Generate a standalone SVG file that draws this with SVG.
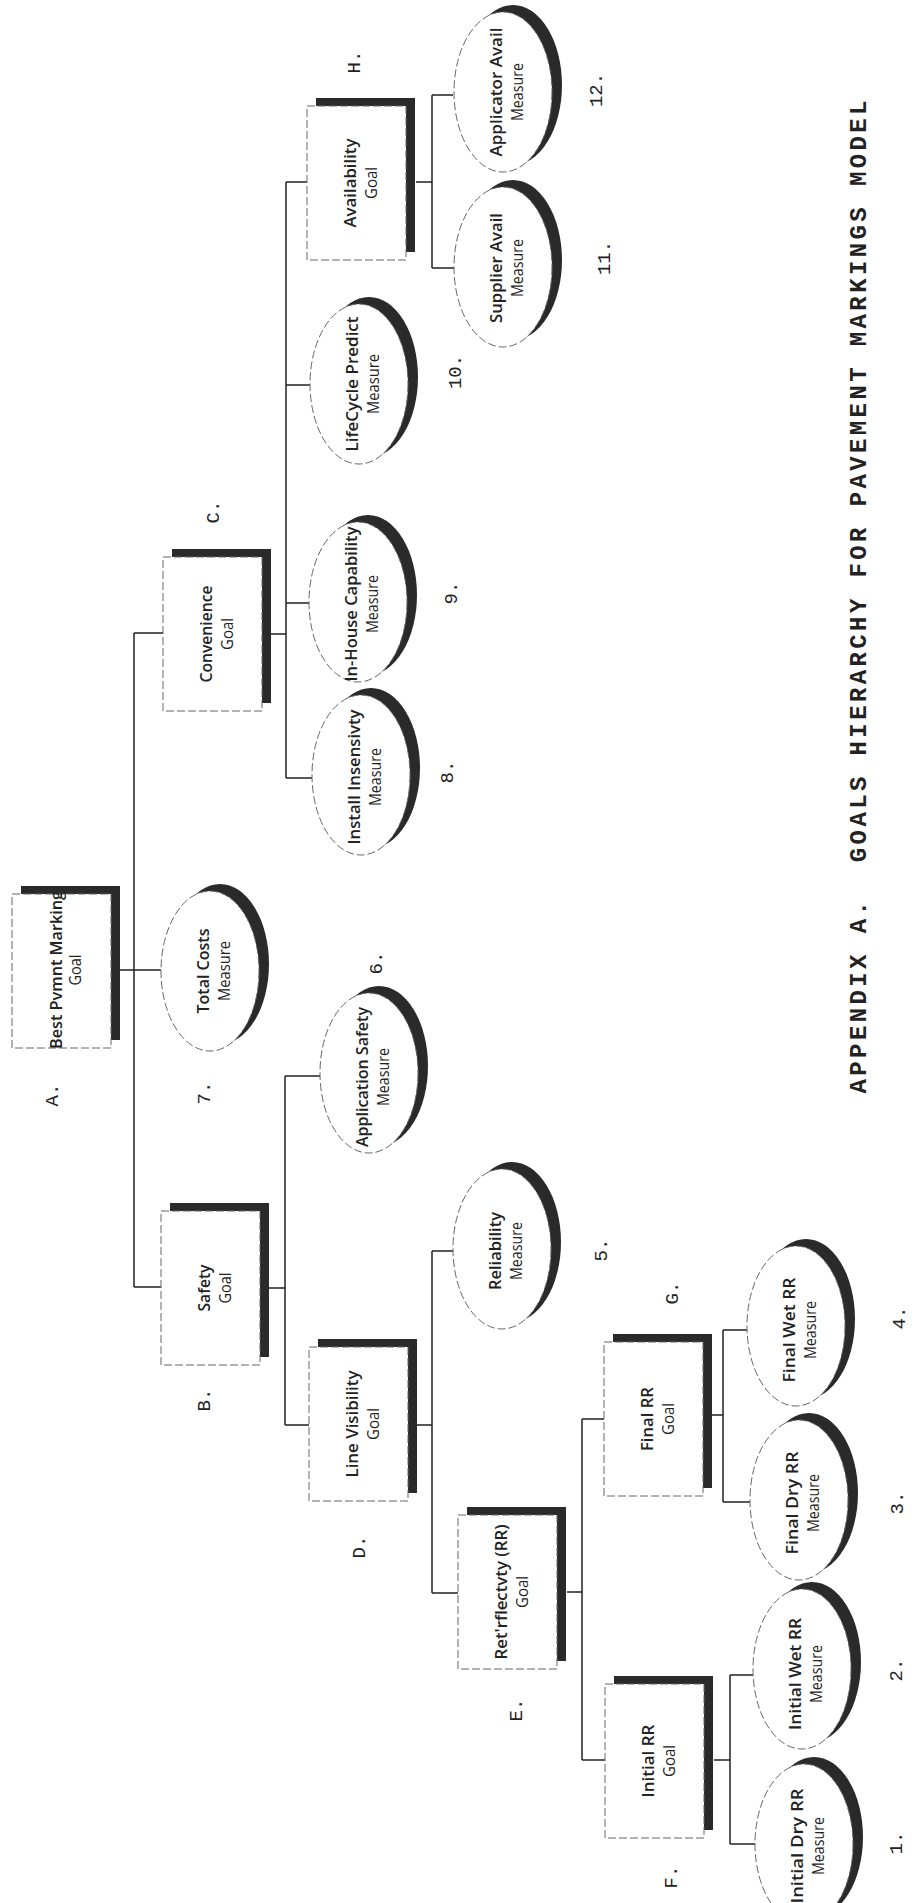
<svg xmlns="http://www.w3.org/2000/svg" width="914" height="1903" viewBox="0 0 914 1903">
<style>
.sh{fill:#2a2a2a}
.bx{fill:#fff;stroke:#666;stroke-width:1;stroke-dasharray:8 3}
.cn{fill:none;stroke:#222;stroke-width:1.5}
.t1{font-family:"Open Sans","Liberation Sans",sans-serif;font-weight:600;font-size:15.5px;fill:#222;text-anchor:middle}
.t2{font-family:"Open Sans","Liberation Sans",sans-serif;font-weight:400;font-size:16px;fill:#222;text-anchor:middle}
.lb{font-family:"Liberation Mono",monospace;font-size:19px;fill:#222;text-anchor:middle;dominant-baseline:central}
.ti{font-family:"Liberation Mono",monospace;font-weight:bold;font-size:24px;fill:#222;text-anchor:middle;dominant-baseline:central}
</style>
<defs>
<clipPath id="clipA"><rect x="0" y="893" width="130" height="170"/></clipPath>
</defs>
<rect width="914" height="1903" fill="#fff"/>

<g id="connectors">
<path class="cn" d="M120,970H161M134,633V1287M134,633H163M134,1287H161"/>
<path class="cn" d="M269,1288H285M285,1076V1425M285,1076H320M285,1425H309"/>
<path class="cn" d="M271,634H286M286,182V778M286,182H307M286,385H310M286,603H309M286,778H312"/>
<path class="cn" d="M416,182H432M432,95V268M432,95H453M432,268H454"/>
<path class="cn" d="M417,1425H432M432,1251V1593M432,1251H453M432,1593H458"/>
<path class="cn" d="M567,1592H582M582,1419V1760M582,1419H604M582,1760H605"/>
<path class="cn" d="M712,1415H723M723,1330V1502M723,1330H747M723,1502H750"/>
<path class="cn" d="M714,1760H730M730,1675V1844M730,1675H753M730,1844H755"/>
</g>

<!-- Goal boxes -->
<g id="n-A">
<rect class="sh" x="21" y="886" width="99" height="154"/>
<rect class="bx" x="12" y="894" width="99" height="154"/>
<g clip-path="url(#clipA)"><g transform="translate(61.5,970) rotate(-90)"><text class="t1" y="0" textLength="158" lengthAdjust="spacingAndGlyphs">Best Pvmnt Marking</text><text class="t2" y="19" textLength="31" lengthAdjust="spacingAndGlyphs">Goal</text></g></g>
</g>
<g id="n-B">
<rect class="sh" x="170" y="1203" width="99" height="154"/>
<rect class="bx" x="161" y="1211" width="99" height="154"/>
<g transform="translate(210.5,1288) rotate(-90)"><text class="t1" y="-1" textLength="47" lengthAdjust="spacingAndGlyphs">Safety</text><text class="t2" y="20" textLength="31" lengthAdjust="spacingAndGlyphs">Goal</text></g>
</g>
<g id="n-C">
<rect class="sh" x="172" y="549" width="99" height="154"/>
<rect class="bx" x="163" y="557" width="99" height="154"/>
<g transform="translate(212.5,634) rotate(-90)"><text class="t1" y="-1" textLength="97" lengthAdjust="spacingAndGlyphs">Convenience</text><text class="t2" y="20" textLength="32" lengthAdjust="spacingAndGlyphs">Goal</text></g>
</g>
<g id="n-D">
<rect class="sh" x="318" y="1339" width="99" height="154"/>
<rect class="bx" x="309" y="1347" width="99" height="154"/>
<g transform="translate(358.5,1424) rotate(-90)"><text class="t1" y="-1" textLength="107" lengthAdjust="spacingAndGlyphs">Line Visibility</text><text class="t2" y="20" textLength="32" lengthAdjust="spacingAndGlyphs">Goal</text></g>
</g>
<g id="n-H">
<rect class="sh" x="316" y="98" width="99" height="154"/>
<rect class="bx" x="307" y="106" width="99" height="154"/>
<g transform="translate(356.5,183) rotate(-90)"><text class="t1" y="-1" textLength="89" lengthAdjust="spacingAndGlyphs">Availability</text><text class="t2" y="20" textLength="32" lengthAdjust="spacingAndGlyphs">Goal</text></g>
</g>
<g id="n-E">
<rect class="sh" x="467" y="1507" width="99" height="154"/>
<rect class="bx" x="458" y="1515" width="99" height="154"/>
<g transform="translate(507.5,1592) rotate(-90)"><text class="t1" y="-1" textLength="135" lengthAdjust="spacingAndGlyphs">Ret'rflectvty (RR)</text><text class="t2" y="20" textLength="32" lengthAdjust="spacingAndGlyphs">Goal</text></g>
</g>
<g id="n-G">
<rect class="sh" x="613" y="1334" width="99" height="154"/>
<rect class="bx" x="604" y="1342" width="99" height="154"/>
<g transform="translate(653.5,1419) rotate(-90)"><text class="t1" y="-1" textLength="64" lengthAdjust="spacingAndGlyphs">Final RR</text><text class="t2" y="20" textLength="32" lengthAdjust="spacingAndGlyphs">Goal</text></g>
</g>
<g id="n-F">
<rect class="sh" x="614" y="1676" width="99" height="154"/>
<rect class="bx" x="605" y="1684" width="99" height="154"/>
<g transform="translate(654.5,1761) rotate(-90)"><text class="t1" y="-1" textLength="73" lengthAdjust="spacingAndGlyphs">Initial RR</text><text class="t2" y="20" textLength="32" lengthAdjust="spacingAndGlyphs">Goal</text></g>
</g>

<!-- Measure ellipses -->
<g id="n-7">
<ellipse class="sh" cx="220" cy="964" rx="49" ry="80"/>
<ellipse class="bx" cx="210" cy="971" rx="49" ry="80"/>
<g transform="translate(210,971) rotate(-90)"><text class="t1" y="-1" textLength="85" lengthAdjust="spacingAndGlyphs">Total Costs</text><text class="t2" y="20" textLength="60" lengthAdjust="spacingAndGlyphs">Measure</text></g>
</g>
<g id="n-6">
<ellipse class="sh" cx="379" cy="1066" rx="49" ry="80"/>
<ellipse class="bx" cx="369" cy="1073" rx="49" ry="80"/>
<g transform="translate(369,1077) rotate(-90)"><text class="t1" y="-1" textLength="140" lengthAdjust="spacingAndGlyphs">Application Safety</text><text class="t2" y="20" textLength="58" lengthAdjust="spacingAndGlyphs">Measure</text></g>
</g>
<g id="n-8">
<ellipse class="sh" cx="371" cy="768" rx="49" ry="80"/>
<ellipse class="bx" cx="361" cy="775" rx="49" ry="80"/>
<g transform="translate(361,777) rotate(-90)"><text class="t1" y="-1" textLength="135" lengthAdjust="spacingAndGlyphs">Install Insensivty</text><text class="t2" y="20" textLength="58" lengthAdjust="spacingAndGlyphs">Measure</text></g>
</g>
<g id="n-9">
<ellipse class="sh" cx="368" cy="595" rx="49" ry="80"/>
<ellipse class="bx" cx="358" cy="602" rx="49" ry="80"/>
<g transform="translate(358,604) rotate(-90)"><text class="t1" y="-1" textLength="155" lengthAdjust="spacingAndGlyphs">In-House Capability</text><text class="t2" y="20" textLength="58" lengthAdjust="spacingAndGlyphs">Measure</text></g>
</g>
<g id="n-10">
<ellipse class="sh" cx="369" cy="377" rx="49" ry="80"/>
<ellipse class="bx" cx="359" cy="384" rx="49" ry="80"/>
<g transform="translate(359,384) rotate(-90)"><text class="t1" y="-1" textLength="135" lengthAdjust="spacingAndGlyphs">LifeCycle Predict</text><text class="t2" y="20" textLength="60" lengthAdjust="spacingAndGlyphs">Measure</text></g>
</g>
<g id="n-11">
<ellipse class="sh" cx="513" cy="260" rx="49" ry="80"/>
<ellipse class="bx" cx="503" cy="267" rx="49" ry="80"/>
<g transform="translate(503,268) rotate(-90)"><text class="t1" y="-1" textLength="110" lengthAdjust="spacingAndGlyphs">Supplier Avail</text><text class="t2" y="20" textLength="58" lengthAdjust="spacingAndGlyphs">Measure</text></g>
</g>
<g id="n-12">
<ellipse class="sh" cx="513" cy="85" rx="49" ry="80"/>
<ellipse class="bx" cx="503" cy="92" rx="49" ry="80"/>
<g transform="translate(503,92) rotate(-90)"><text class="t1" y="-1" textLength="129" lengthAdjust="spacingAndGlyphs">Applicator Avail</text><text class="t2" y="20" textLength="58" lengthAdjust="spacingAndGlyphs">Measure</text></g>
</g>
<g id="n-5">
<ellipse class="sh" cx="512" cy="1242" rx="49" ry="80"/>
<ellipse class="bx" cx="502" cy="1249" rx="49" ry="80"/>
<g transform="translate(502,1251) rotate(-90)"><text class="t1" y="-1" textLength="78" lengthAdjust="spacingAndGlyphs">Reliability</text><text class="t2" y="20" textLength="58" lengthAdjust="spacingAndGlyphs">Measure</text></g>
</g>
<g id="n-4">
<ellipse class="sh" cx="806" cy="1319" rx="49" ry="80"/>
<ellipse class="bx" cx="796" cy="1326" rx="49" ry="80"/>
<g transform="translate(796,1330) rotate(-90)"><text class="t1" y="-1" textLength="105" lengthAdjust="spacingAndGlyphs">Final Wet RR</text><text class="t2" y="20" textLength="58" lengthAdjust="spacingAndGlyphs">Measure</text></g>
</g>
<g id="n-3">
<ellipse class="sh" cx="809" cy="1493" rx="49" ry="80"/>
<ellipse class="bx" cx="799" cy="1500" rx="49" ry="80"/>
<g transform="translate(799,1503) rotate(-90)"><text class="t1" y="-1" textLength="103" lengthAdjust="spacingAndGlyphs">Final Dry RR</text><text class="t2" y="20" textLength="58" lengthAdjust="spacingAndGlyphs">Measure</text></g>
</g>
<g id="n-2">
<ellipse class="sh" cx="812" cy="1662" rx="49" ry="80"/>
<ellipse class="bx" cx="802" cy="1669" rx="49" ry="80"/>
<g transform="translate(802,1674) rotate(-90)"><text class="t1" y="-1" textLength="112" lengthAdjust="spacingAndGlyphs">Initial Wet RR</text><text class="t2" y="20" textLength="58" lengthAdjust="spacingAndGlyphs">Measure</text></g>
</g>
<g id="n-1">
<ellipse class="sh" cx="814" cy="1837" rx="49" ry="80"/>
<ellipse class="bx" cx="804" cy="1844" rx="49" ry="80"/>
<g transform="translate(804,1846) rotate(-90)"><text class="t1" y="-1" textLength="115" lengthAdjust="spacingAndGlyphs">Initial Dry RR</text><text class="t2" y="20" textLength="58" lengthAdjust="spacingAndGlyphs">Measure</text></g>
</g>

<g id="labels">
<text class="lb" transform="translate(355,62) rotate(-90)">H.</text>
<text class="lb" transform="translate(597,90) rotate(-90)">12.</text>
<text class="lb" transform="translate(605,258) rotate(-90)">11.</text>
<text class="lb" transform="translate(456,372) rotate(-90)">10.</text>
<text class="lb" transform="translate(214,512) rotate(-90)">C.</text>
<text class="lb" transform="translate(452,593) rotate(-90)">9.</text>
<text class="lb" transform="translate(448,772) rotate(-90)">8.</text>
<text class="lb" transform="translate(53,1095) rotate(-90)">A.</text>
<text class="lb" transform="translate(205,1093) rotate(-90)">7.</text>
<text class="lb" transform="translate(377,963) rotate(-90)">6.</text>
<text class="lb" transform="translate(205,1400) rotate(-90)">B.</text>
<text class="lb" transform="translate(602,1250) rotate(-90)">5.</text>
<text class="lb" transform="translate(673,1293) rotate(-90)">G.</text>
<text class="lb" transform="translate(900,1318) rotate(-90)">4.</text>
<text class="lb" transform="translate(360,1547) rotate(-90)">D.</text>
<text class="lb" transform="translate(898,1503) rotate(-90)">3.</text>
<text class="lb" transform="translate(517,1710) rotate(-90)">E.</text>
<text class="lb" transform="translate(897,1670) rotate(-90)">2.</text>
<text class="lb" transform="translate(672,1877) rotate(-90)">F.</text>
<text class="lb" transform="translate(897,1843) rotate(-90)">1.</text>
</g>

<g id="title">
<text class="ti" xml:space="preserve" transform="translate(859,597) rotate(-90)" textLength="993" lengthAdjust="spacing">APPENDIX A.  GOALS HIERARCHY FOR PAVEMENT MARKINGS MODEL</text>
</g>
</svg>
